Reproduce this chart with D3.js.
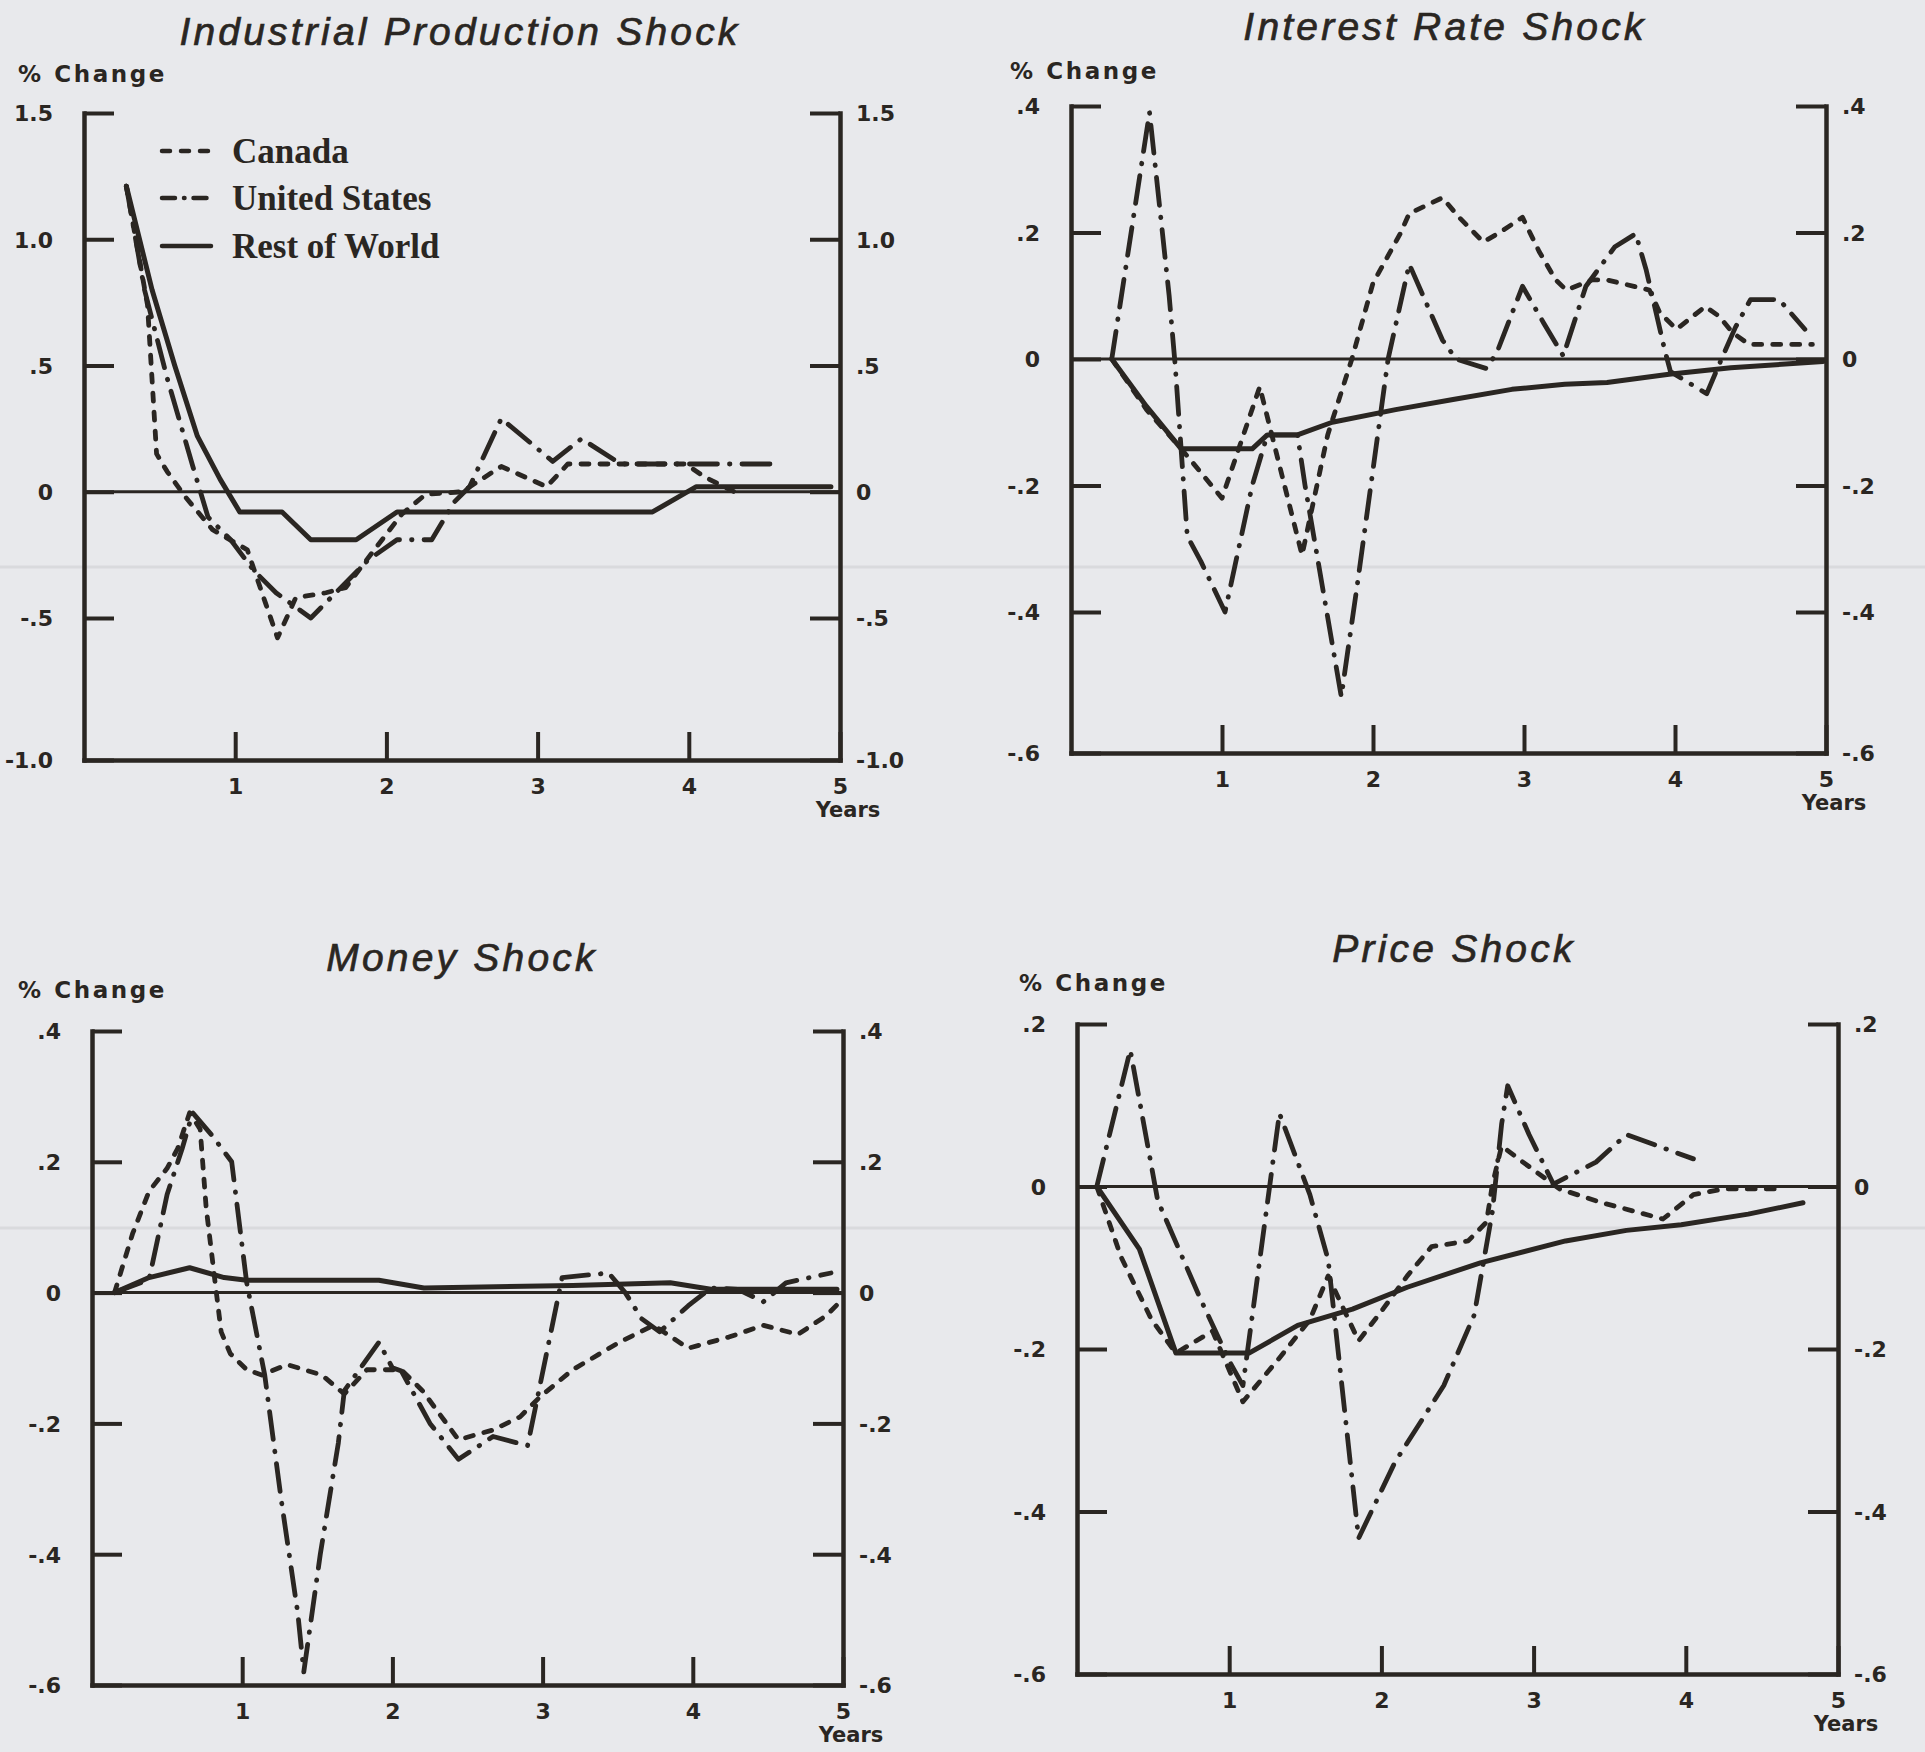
<!DOCTYPE html>
<html>
<head>
<meta charset="utf-8">
<script src="https://cdn.jsdelivr.net/npm/d3@7"></script>
<style>
  body { margin: 0; background: #e8e9ec; }
  svg { display: block; }
</style>
</head>
<body>
<div id="container"></div>
<script>
const width = 1925;
const height = 1752;
const ink = "#2a2622";

// x axis (years after the shock)
const years = [1, 2, 3, 4, 5];
const yearLabels = ["1", "2", "3", "4", "5"];

// y ticks of each panel
const ipTicks = [1.5, 1.0, 0.5, 0, -0.5, -1.0];
const ipTickLabels = ["1.5", "1.0", ".5", "0", "-.5", "-1.0"];
const irTicks = [0.4, 0.2, 0, -0.2, -0.4, -0.6];
const irTickLabels = [".4", ".2", "0", "-.2", "-.4", "-.6"];
const moneyTicks = [0.4, 0.2, 0, -0.2, -0.4, -0.6];
const moneyTickLabels = [".4", ".2", "0", "-.2", "-.4", "-.6"];
const priceTicks = [0.2, 0, -0.2, -0.4, -0.6];
const priceTickLabels = [".2", "0", "-.2", "-.4", "-.6"];

const countries = ["Canada", "United States", "Rest of World"];

// Industrial production shock, [year, % change]
const ipCanada = [[0.28,1.21],[0.42,0.74],[0.48,0.15],[0.55,0.08],[0.67,-0.02],[0.85,-0.15],[1.08,-0.23],[1.2,-0.44],[1.28,-0.57],[1.4,-0.42],[1.6,-0.40],[1.73,-0.38],[1.92,-0.23],[2.1,-0.09],[2.26,-0.01],[2.5,0.0],[2.76,0.10],[3.06,0.02],[3.2,0.11],[3.98,0.11],[4.1,0.06],[4.3,0.0]];
const ipUS = [[0.28,1.21],[0.4,0.80],[0.55,0.45],[0.72,0.10],[0.82,-0.10],[0.97,-0.19],[1.12,-0.31],[1.27,-0.40],[1.5,-0.50],[1.88,-0.27],[2.07,-0.19],[2.3,-0.19],[2.45,-0.04],[2.55,0.02],[2.76,0.29],[3.1,0.12],[3.29,0.21],[3.55,0.11],[4.58,0.11]];
const ipRoW = [[0.28,1.21],[0.45,0.80],[0.6,0.50],[0.75,0.22],[0.9,0.05],[1.03,-0.08],[1.31,-0.08],[1.5,-0.19],[1.8,-0.19],[2.07,-0.08],[3.76,-0.08],[4.05,0.02],[4.94,0.02]];

// Interest rate shock
const irCanada = [[0.27,0],[0.5,-0.08],[0.73,-0.142],[1.0,-0.22],[1.25,-0.044],[1.53,-0.31],[1.7,-0.12],[1.86,0.0],[2.0,0.12],[2.18,0.198],[2.24,0.23],[2.46,0.255],[2.57,0.224],[2.73,0.185],[2.84,0.2],[2.99,0.224],[3.1,0.17],[3.21,0.125],[3.28,0.109],[3.45,0.125],[3.55,0.125],[3.83,0.109],[3.9,0.073],[4.01,0.047],[4.2,0.083],[4.29,0.068],[4.38,0.042],[4.49,0.023],[4.91,0.023]];
const irUS = [[0.27,0],[0.52,0.39],[0.65,0.1],[0.69,-0.01],[0.77,-0.28],[0.86,-0.32],[1.02,-0.40],[1.2,-0.2],[1.3,-0.12],[1.5,-0.12],[1.55,-0.2],[1.79,-0.52],[1.9,-0.35],[2.1,0.0],[2.24,0.15],[2.46,0.03],[2.55,0.0],[2.75,-0.015],[2.82,0.01],[2.99,0.115],[3.13,0.057],[3.26,0.005],[3.41,0.115],[3.6,0.177],[3.74,0.198],[3.81,0.14],[3.93,0.016],[3.97,-0.02],[4.21,-0.055],[4.29,-0.01],[4.4,0.05],[4.5,0.094],[4.69,0.094],[4.86,0.047]];
const irRoW = [[0.27,0],[0.5,-0.075],[0.73,-0.142],[1.2,-0.142],[1.3,-0.12],[1.5,-0.12],[1.73,-0.10],[2.15,-0.08],[2.53,-0.064],[2.92,-0.048],[3.27,-0.04],[3.55,-0.037],[3.96,-0.024],[4.37,-0.014],[4.98,-0.004]];

// Money shock
const moneyCanada = [[0.15,0],[0.27,0.09],[0.38,0.155],[0.5,0.19],[0.57,0.22],[0.65,0.275],[0.72,0.25],[0.76,0.13],[0.82,0.015],[0.86,-0.06],[0.92,-0.093],[1.03,-0.118],[1.13,-0.126],[1.3,-0.11],[1.53,-0.126],[1.68,-0.155],[1.83,-0.118],[2.06,-0.118],[2.2,-0.15],[2.44,-0.225],[2.67,-0.21],[2.85,-0.19],[2.98,-0.16],[3.2,-0.118],[3.51,-0.076],[3.74,-0.05],[3.97,-0.085],[4.24,-0.068],[4.47,-0.05],[4.7,-0.064],[4.89,-0.035],[4.98,-0.014]];
const moneyUS = [[0.15,0],[0.38,0.02],[0.5,0.15],[0.6,0.22],[0.67,0.275],[0.8,0.24],[0.93,0.2],[1.03,0.015],[1.15,-0.126],[1.26,-0.317],[1.37,-0.49],[1.41,-0.58],[1.52,-0.4],[1.64,-0.23],[1.68,-0.15],[1.91,-0.076],[2.0,-0.115],[2.06,-0.12],[2.25,-0.2],[2.44,-0.255],[2.67,-0.22],[2.9,-0.234],[3.13,0.023],[3.44,0.03],[3.55,0.0],[3.66,-0.04],[3.78,-0.06],[3.97,-0.02],[4.12,0.007],[4.3,0.005],[4.47,-0.014],[4.62,0.015],[4.92,0.03]];
const moneyRoW = [[0.15,0],[0.38,0.023],[0.65,0.038],[0.88,0.023],[1.03,0.019],[1.91,0.019],[2.21,0.007],[3.2,0.011],[3.85,0.015],[4.12,0.005],[4.96,0.005]];

// Price shock
const priceCanada = [[0.13,0],[0.29,-0.087],[0.49,-0.164],[0.65,-0.205],[0.89,-0.178],[1.09,-0.265],[1.33,-0.211],[1.53,-0.164],[1.65,-0.11],[1.85,-0.19],[2.01,-0.151],[2.17,-0.11],[2.33,-0.074],[2.57,-0.067],[2.69,-0.044],[2.73,0.003],[2.79,0.05],[2.93,0.03],[3.17,-0.003],[3.45,-0.02],[3.85,-0.04],[4.05,-0.01],[4.25,-0.003],[4.65,-0.003]];
const priceUS = [[0.13,0],[0.35,0.168],[0.53,-0.017],[0.81,-0.138],[1.01,-0.218],[1.09,-0.245],[1.33,0.09],[1.53,-0.01],[1.65,-0.09],[1.85,-0.433],[2.09,-0.339],[2.41,-0.245],[2.61,-0.158],[2.73,-0.03],[2.79,0.077],[2.83,0.124],[2.97,0.064],[3.13,0.003],[3.41,0.03],[3.61,0.064],[4.05,0.034]];
const priceRoW = [[0.13,0],[0.41,-0.077],[0.65,-0.205],[1.13,-0.205],[1.45,-0.171],[1.81,-0.151],[2.17,-0.124],[2.65,-0.094],[3.21,-0.067],[3.61,-0.054],[3.97,-0.047],[4.41,-0.034],[4.77,-0.02]];

// line style per country
const styles = {
  "Canada": { dash: "8,11", width: 4.8 },
  "United States": { dash: "28,12,0.5,12", width: 4.8 },
  "Rest of World": { dash: null, width: 5 },
};

// panel layout (scan is slightly uneven, so some y ranges are piecewise)
const panels = [
  { title: "Industrial Production Shock", tx: 460, ty: 45, cx: 18, cy: 82,
    x0: 84, x1: 840, yDom: [-1.0, -0.5, 1.5], yRange: [760, 618, 113],
    ticks: ipTicks, labels: ipTickLabels, series: [ipCanada, ipUS, ipRoW], legend: true },
  { title: "Interest Rate Shock", tx: 1445, ty: 40, cx: 1010, cy: 79,
    x0: 1071, x1: 1826, yDom: [-0.6, -0.4, 0.4], yRange: [753, 612, 106],
    ticks: irTicks, labels: irTickLabels, series: [irCanada, irUS, irRoW] },
  { title: "Money Shock", tx: 462, ty: 971, cx: 18, cy: 998,
    x0: 92, x1: 843, yDom: [-0.6, 0.4], yRange: [1685, 1031],
    ticks: moneyTicks, labels: moneyTickLabels, series: [moneyCanada, moneyUS, moneyRoW] },
  { title: "Price Shock", tx: 1454, ty: 962, cx: 1019, cy: 991,
    x0: 1077, x1: 1838, yDom: [-0.6, 0.2], yRange: [1674, 1024],
    ticks: priceTicks, labels: priceTickLabels, series: [priceCanada, priceUS, priceRoW] },
];

const svg = d3
  .select("#container")
  .append("svg")
  .attr("width", width)
  .attr("height", height);

svg.append("rect").attr("width", width).attr("height", height).attr("fill", "#e8e9ec");

// faint bleed-through rules of the paper
[567, 1228].forEach((y) => {
  svg.append("line").attr("x1", 0).attr("x2", width).attr("y1", y).attr("y2", y)
    .attr("stroke", "#d9dadd").attr("stroke-width", 3);
});

const labelFont = "'DejaVu Sans', sans-serif";

panels.forEach((p) => {
  const g = svg.append("g");
  const x = d3.scaleLinear().domain([0, 5]).range([p.x0, p.x1]);
  const y = d3.scaleLinear().domain(p.yDom).range(p.yRange);
  const yBottom = y(p.yDom[0]);
  const fmt = (d) => p.labels[p.ticks.indexOf(d)];

  // title
  g.append("text")
    .attr("x", p.tx).attr("y", p.ty)
    .attr("text-anchor", "middle")
    .style("font-family", "'Liberation Sans', Arial, sans-serif")
    .style("font-style", "italic")
    .style("font-size", "39px")
    .style("letter-spacing", "3.2px")
    .attr("fill", ink)
    .attr("stroke", ink)
    .attr("stroke-width", 0.7)
    .text(p.title);

  g.append("text")
    .attr("x", p.cx).attr("y", p.cy)
    .style("font-family", labelFont)
    .style("font-weight", "bold")
    .style("font-size", "23px")
    .style("letter-spacing", "2.6px")
    .attr("fill", ink)
    .text("% Change");

  // axes
  const left = g.append("g")
    .attr("transform", `translate(${p.x0},0)`)
    .call(d3.axisLeft(y).tickValues(p.ticks).tickFormat(fmt).tickSizeInner(-30).tickSizeOuter(0).tickPadding(31));
  const right = g.append("g")
    .attr("transform", `translate(${p.x1},0)`)
    .call(d3.axisRight(y).tickValues(p.ticks).tickFormat(fmt).tickSizeInner(-30).tickSizeOuter(0).tickPadding(16));
  const bottom = g.append("g")
    .attr("transform", `translate(0,${yBottom})`)
    .call(d3.axisBottom(x).tickValues(years).tickFormat((d, i) => yearLabels[i]).tickSizeInner(-28).tickSizeOuter(0).tickPadding(18));

  [left, right, bottom].forEach((a) => {
    a.select(".domain").attr("stroke", ink).attr("stroke-width", 4.5).attr("stroke-linecap", "square");
    a.selectAll(".tick line").attr("stroke", ink).attr("stroke-width", 4);
    a.selectAll("text")
      .attr("fill", ink)
      .style("font-family", labelFont)
      .style("font-weight", "bold")
      .style("font-size", "22px");
  });
  left.selectAll(".tick text").attr("dy", "0.36em");
  right.selectAll(".tick text").attr("dy", "0.36em");

  g.append("text")
    .attr("x", p.x1 + 8).attr("y", yBottom + 57)
    .attr("text-anchor", "middle")
    .style("font-family", labelFont)
    .style("font-weight", "bold")
    .style("font-size", "21px")
    .attr("fill", ink)
    .text("Years");

  // zero line
  g.append("line")
    .attr("x1", p.x0).attr("x2", p.x1)
    .attr("y1", y(0)).attr("y2", y(0))
    .attr("stroke", ink).attr("stroke-width", 3);

  const line = d3.line().x((d) => x(d[0])).y((d) => y(d[1]));

  p.series.forEach((s, i) => {
    const st = styles[countries[i]];
    g.append("path")
      .datum(s)
      .attr("d", line)
      .attr("fill", "none")
      .attr("stroke", ink)
      .attr("stroke-width", st.width)
      .attr("stroke-linecap", "round")
      .attr("stroke-linejoin", "round")
      .attr("stroke-dasharray", st.dash);
  });

  if (p.legend) {
    const rows = [151, 198, 246];
    const legendDash = ["8,11", "13,9,0.5,9", null];
    countries.forEach((c, i) => {
      g.append("line")
        .attr("x1", 162).attr("x2", 211)
        .attr("y1", rows[i]).attr("y2", rows[i])
        .attr("stroke", ink).attr("stroke-width", 4.5)
        .attr("stroke-linecap", "round")
        .attr("stroke-dasharray", legendDash[i]);
      g.append("text")
        .attr("x", 232).attr("y", rows[i] + 12)
        .style("font-family", "'Liberation Serif', 'Times New Roman', serif")
        .style("font-weight", "bold")
        .style("font-size", "35px")
        .attr("fill", ink)
        .text(c);
    });
  }
});
</script>
</body>
</html>
